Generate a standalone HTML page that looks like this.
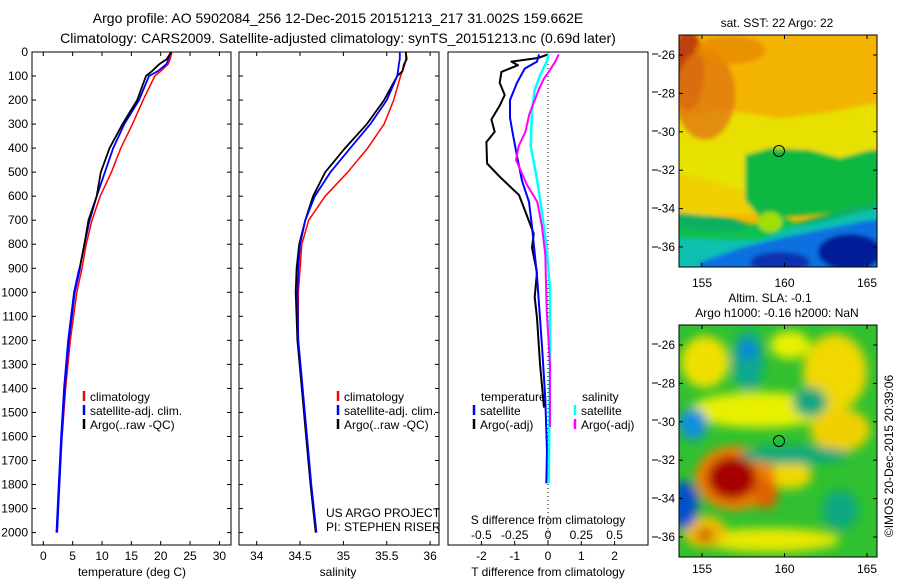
<!DOCTYPE html>
<html><head><meta charset="utf-8">
<style>
html,body{margin:0;padding:0;background:#fff;}
svg text{font-family:"Liberation Sans",sans-serif;fill:#000;}
</style></head>
<body>
<svg id="fig" width="900" height="580" viewBox="0 0 900 580" xmlns="http://www.w3.org/2000/svg">
<defs>
<filter id="blur3" x="-20%" y="-20%" width="140%" height="140%"><feGaussianBlur stdDeviation="2"/></filter>
<filter id="blur5" x="-20%" y="-20%" width="140%" height="140%"><feGaussianBlur stdDeviation="5"/></filter>
<clipPath id="clipTop"><rect x="679" y="35" width="198" height="232"/></clipPath>
<clipPath id="clipBot"><rect x="679" y="325" width="198" height="232"/></clipPath>
</defs>
<text x="338" y="23" font-size="14" text-anchor="middle">Argo profile: AO 5902084_256 12-Dec-2015 20151213_217 31.002S 159.662E</text>
<text x="338" y="43" font-size="14" text-anchor="middle">Climatology: CARS2009. Satellite-adjusted climatology: synTS_20151213.nc (0.69d later)</text>

<!-- Top SST map -->
<g>
<g clip-path="url(#clipTop)">
<rect x="679" y="35" width="198" height="232" fill="#f2b400"/>
<g filter="url(#blur3)">
<polygon points="670,120 720,110 780,118 830,112 890,100 890,180 670,180" fill="#e8e000"/>
<polygon points="670,150 890,150 890,200 670,200" fill="#e6e400"/>
<polygon points="670,170 745,190 760,215 670,215" fill="#f0d000"/>
<polygon points="745,155 770,148 810,150 840,158 870,150 890,150 890,200 870,210 760,218 745,200" fill="#10b840"/>
<polygon points="670,212 730,218 760,228 800,222 860,205 890,200 890,280 670,280" fill="#10b060"/>
<polygon points="670,225 700,232 740,230 760,222 780,215 800,226 790,240 760,245 690,245 670,245" fill="#10c050"/>
<polygon points="670,238 720,240 760,240 790,228 830,220 870,210 890,205 890,280 670,280" fill="#10c0b0"/>
<polygon points="700,262 740,248 780,238 830,228 870,220 890,220 890,280 700,280" fill="#1070e0"/>
<ellipse cx="850" cy="252" rx="32" ry="18" fill="#001a98"/>
<ellipse cx="780" cy="262" rx="30" ry="10" fill="#1030b0"/>
<ellipse cx="688" cy="70" rx="16" ry="40" fill="#c04010"/>
<ellipse cx="705" cy="95" rx="30" ry="45" fill="#e07810" opacity="0.8"/>
<ellipse cx="730" cy="50" rx="35" ry="14" fill="#e88800" opacity="0.8"/>
<ellipse cx="770" cy="222" rx="12" ry="10" fill="#a0e000"/>
</g>
</g>
<rect x="679" y="35" width="198" height="232" fill="none" stroke="#000" stroke-width="1"/>
<circle cx="779" cy="151" r="5.5" fill="none" stroke="#000"/>
<text x="777" y="27" font-size="12" text-anchor="middle">sat. SST: 22 Argo: 22</text>
</g>

<!-- Bottom SLA map -->
<g>
<g clip-path="url(#clipBot)">
<rect x="679" y="325" width="198" height="232" fill="#30c030"/>
<g filter="url(#blur5)">
<ellipse cx="705" cy="362" rx="24" ry="26" fill="#f0e000"/>
<ellipse cx="760" cy="410" rx="70" ry="18" fill="#e8f000"/>
<ellipse cx="835" cy="372" rx="32" ry="38" fill="#f0d800"/>
<ellipse cx="840" cy="430" rx="30" ry="22" fill="#f0d000"/>
<ellipse cx="790" cy="345" rx="20" ry="14" fill="#e8f000"/>
<ellipse cx="790" cy="475" rx="22" ry="14" fill="#f0d800"/>
<ellipse cx="770" cy="540" rx="70" ry="12" fill="#e8e800"/>
<ellipse cx="705" cy="532" rx="22" ry="16" fill="#f0c000"/>
<ellipse cx="735" cy="478" rx="40" ry="32" fill="#f08000"/>
<ellipse cx="766" cy="494" rx="12" ry="15" fill="#e06000"/>
<ellipse cx="732" cy="478" rx="25" ry="22" fill="#a80000"/>
<ellipse cx="705" cy="535" rx="9" ry="7" fill="#d06000"/>
<ellipse cx="748" cy="360" rx="16" ry="30" fill="#10a890"/>
<ellipse cx="748" cy="350" rx="8" ry="9" fill="#1080e0"/>
<ellipse cx="810" cy="402" rx="17" ry="15" fill="#10a880"/>
<ellipse cx="795" cy="455" rx="55" ry="9" fill="#10a880"/>
<ellipse cx="693" cy="424" rx="14" ry="16" fill="#1090e0"/>
<ellipse cx="684" cy="505" rx="14" ry="24" fill="#0050d0"/>
<ellipse cx="840" cy="510" rx="18" ry="20" fill="#10a880"/>
</g>
</g>
<rect x="679" y="325" width="198" height="232" fill="none" stroke="#000" stroke-width="1"/>
<circle cx="779" cy="441" r="5.5" fill="none" stroke="#000"/>
<text x="770" y="302" font-size="12" text-anchor="middle">Altim. SLA: -0.1</text>
<text x="777" y="317" font-size="12" text-anchor="middle">Argo h1000: -0.16 h2000: NaN</text>
</g>
<text transform="translate(893,456) rotate(-90)" font-size="12" text-anchor="middle">©IMOS 20-Dec-2015 20:39:06</text>

<g id="charts"></g>
</svg>
<script>
// ---- data ----
const depths = [0,30,50,80,100,200,300,400,500,600,700,800,900,1000,1200,1400,1600,1800,2000];
const tClim = [21.9,21.6,21.3,20.0,19.0,17.0,15.2,13.2,11.6,9.7,8.3,7.3,6.6,5.7,4.6,3.8,3.2,null,null];
const tSat  = [21.7,21.3,21.0,19.5,18.0,16.3,13.8,11.9,10.5,9.1,7.9,7.0,6.2,5.3,4.3,3.6,3.1,2.7,2.3];
const tArgo = [21.8,21.0,19.8,18.5,17.5,16.0,13.5,11.3,9.8,9.1,7.7,7.0,6.2,5.3,4.3,3.6,3.1,2.7,2.3];
const sClim = [35.72,35.72,35.71,35.68,35.66,35.58,35.47,35.28,35.05,34.79,34.60,34.52,34.50,34.48,34.48,34.52,34.58,34.63,null];
const sSat  = [35.65,35.65,35.64,35.63,35.62,35.50,35.31,35.08,34.85,34.67,34.56,34.50,34.48,34.47,34.48,34.53,34.58,34.63,34.69];
const sArgo = [35.72,35.73,35.70,35.68,35.62,35.47,35.27,35.02,34.79,34.65,34.56,34.49,34.46,34.45,34.47,34.52,34.57,34.62,34.68];
const dTArgoDepth = [10,25,40,55,83,128,179,223,281,332,375,464,522,595,682,756,815,917,1020,1107,1297,1480];
const dTArgo = [0,-0.3,-1.1,-0.9,-1.4,-1.45,-1.3,-1.45,-1.7,-1.6,-1.85,-1.83,-1.43,-0.87,-0.63,-0.43,-0.48,-0.33,-0.4,-0.33,-0.24,-0.12];
const dTSatDepth = [10,40,69,128,200,274,345,433,536,624,727,932,1224,1443,1660,1795];
const dTSat = [-0.27,-0.33,-0.7,-0.93,-1.14,-1.14,-1.05,-0.93,-0.78,-0.57,-0.48,-0.33,-0.18,-0.08,-0.03,-0.05];
const dSSatDepth = [10,40,98,157,245,391,537,668,815,990,1300,1795];
const dSSat = [0.005,-0.01,-0.06,-0.1,-0.12,-0.13,-0.08,-0.045,-0.01,0.015,0.015,0.005];
const dSArgoDepth = [10,40,83,110,157,258,332,391,449,551,624,727,844,1077,1300,1560];
const dSArgo = [0.08,0.055,0.005,-0.03,-0.07,-0.14,-0.17,-0.22,-0.24,-0.16,-0.08,-0.045,-0.02,-0.01,0.015,0.015];
const depthTicks = [0,100,200,300,400,500,600,700,800,900,1000,1100,1200,1300,1400,1500,1600,1700,1800,1900,2000];
const tTicks = [0,5,10,15,20,25,30];
const sTicks = [34,34.5,35,35.5,36];
const dTTicks = [-2,-1,0,1,2];
const dSTicks = [-0.5,-0.25,0,0.25,0.5];
const dSTickLabels = ['-0.5','-0.25','0','0.25','0.5'];
const mapLatTicks = [-26,-28,-30,-32,-34,-36];
const mapLonTicks = [155,160,165];

// ---- scales ----
const Y0 = 52, Y1 = 545;
const yD = d => Y0 + d * 0.2403;
const xT = t => 43.3 + t * 5.87;
const xS = s => 256.7 + (s - 34) * 86.7;
const xDT = v => 548 + v * 33.3;
const xDS = v => 548 + v * 133.2;
const NS = 'http://www.w3.org/2000/svg';
const root = document.getElementById('charts');
function mk(tag, attrs, parent) {
  const e = document.createElementNS(NS, tag);
  for (const k in attrs) e.setAttribute(k, attrs[k]);
  (parent || root).appendChild(e);
  return e;
}
function txt(s, x, y, size, anchor, parent) {
  const e = mk('text', {x: x, y: y, 'font-size': size, 'text-anchor': anchor || 'start'}, parent);
  e.textContent = s;
  return e;
}
function line(vals, ds, xf, color, w, name) {
  const pts = [];
  vals.forEach((v, i) => { if (v !== null) pts.push(xf(v).toFixed(1) + ',' + yD(ds[i]).toFixed(1)); });
  const p = mk('polyline', {points: pts.join(' '), fill: 'none', stroke: color, 'stroke-width': w, 'stroke-linejoin': 'round'});
  
  
}
function panel(x0, x1, name) {
  const g = mk('g', {});
  
  
  mk('rect', {x: x0, y: Y0, width: x1 - x0, height: Y1 - Y0, fill: 'none', stroke: '#000', 'stroke-width': 1}, g);
  return g;
}
function depthTickMarks(g, x0, x1, labels) {
  depthTicks.forEach(d => {
    const y = yD(d);
    mk('line', {x1: x0, y1: y, x2: x0 + 4, y2: y, stroke: '#000'}, g);
    mk('line', {x1: x1, y1: y, x2: x1 - 4, y2: y, stroke: '#000'}, g);
    if (labels) {
      const t = txt(String(d), x0 - 4, y + 4, 12, 'end', g);
      
      
    }
  });
}
function xTicks(g, ticks, xf, labels, labelY) {
  ticks.forEach((v, i) => {
    const x = xf(v);
    mk('line', {x1: x, y1: Y0, x2: x, y2: Y0 + 4, stroke: '#000'}, g);
    mk('line', {x1: x, y1: Y1, x2: x, y2: Y1 - 4, stroke: '#000'}, g);
    const t = txt(labels ? labels[i] : String(v), x, labelY, 12, 'middle', g);
    
    
  });
}
function legendEntry(g, x, y, color, label) {
  mk('line', {x1: x, y1: y - 10, x2: x, y2: y, stroke: color, 'stroke-width': 2.5}, g);
  const t = txt(label, x + 6, y, 12, 'start', g);
  
  
}

// ---- temperature panel ----
const gT = panel(32, 231, 'temperature-panel');
depthTickMarks(gT, 32, 231, true);
xTicks(gT, tTicks, xT, null, 560);
line(tClim, depths, xT, '#ff0000', 1.5, 'temperature-climatology-line');
line(tSat, depths, xT, '#0000ff', 1.8, 'temperature-satellite-line');
line(tArgo, depths, xT, '#000000', 1.8, 'temperature-argo-line');
line(tSat.slice(12), depths.slice(12), xT, '#0000ff', 2.5, 'temperature-satellite-deep');
let t = txt('temperature (deg C)', 132, 576, 12, 'middle', gT);
 
legendEntry(gT, 84, 401, '#ff0000', 'climatology');
legendEntry(gT, 84, 415, '#0000ff', 'satellite-adj. clim.');
legendEntry(gT, 84, 429, '#000000', 'Argo(..raw -QC)');

// ---- salinity panel ----
const gS = panel(239, 439, 'salinity-panel');
depthTickMarks(gS, 239, 439, false);
xTicks(gS, sTicks, xS, null, 560);
line(sClim, depths, xS, '#ff0000', 1.5, 'salinity-climatology-line');
line(sArgo, depths, xS, '#000000', 1.8, 'salinity-argo-line');
line(sSat, depths, xS, '#0000ff', 1.8, 'salinity-satellite-line');
t = txt('salinity', 338, 576, 12, 'middle', gS);
 
legendEntry(gS, 338, 401, '#ff0000', 'climatology');
legendEntry(gS, 338, 415, '#0000ff', 'satellite-adj. clim.');
legendEntry(gS, 338, 429, '#000000', 'Argo(..raw -QC)');
t = txt('US ARGO PROJECT', 326, 517, 12, 'start', gS);
 
t = txt('PI: STEPHEN RISER', 326, 531, 12, 'start', gS);
 

// ---- difference panel ----
const gD = panel(448, 648, 'difference-panel');
[54,92,131,170,208,247,344,383,420,460,498,537].forEach(y => mk('line', {x1: 652, y1: y, x2: 658, y2: y, stroke: '#000'}, gD));
dTTicks.forEach(v => {
  const x = xDT(v);
  mk('line', {x1: x, y1: Y1, x2: x, y2: Y1 - 4, stroke: '#000'}, gD);
  const tl = txt(String(v), x, 560, 12, 'middle', gD);
   
});
dSTicks.forEach((v, i) => {
  const tl = txt(dSTickLabels[i], xDS(v), 539, 12, 'middle', gD);
   
});
const zl = mk('line', {x1: xDT(0), y1: Y0, x2: xDT(0), y2: Y1, stroke: '#000', 'stroke-dasharray': '1,3'}, gD);


line(dTArgo, dTArgoDepth, xDT, '#000000', 2, 't-diff-argo-line');
line(dTSat, dTSatDepth, xDT, '#0000ff', 2, 't-diff-satellite-line');
line(dSSat, dSSatDepth, xDS, '#00ffff', 2.5, 's-diff-satellite-line');
line(dSArgo, dSArgoDepth, xDS, '#ff00ff', 2, 's-diff-argo-line');
t = txt('S difference from climatology', 548, 524, 12, 'middle', gD);
 
t = txt('T difference from climatology', 548, 576, 12, 'middle', gD);
 
t = txt('temperature', 481, 401, 12, 'start', gD);
 
t = txt('salinity', 582, 401, 12, 'start', gD);
 
legendEntry(gD, 474, 415, '#0000ff', 'satellite');
legendEntry(gD, 474, 429, '#000000', 'Argo(-adj)');
legendEntry(gD, 575, 415, '#00ffff', 'satellite');
legendEntry(gD, 575, 429, '#ff00ff', 'Argo(-adj)');

// ---- map axes ----
function mapAxes(top, bottom, lat0y, lonLabelY, name) {
  const g = mk('g', {});
  
  
  mapLatTicks.forEach(la => {
    const y = lat0y + (-26 - la) * 19.2;
    mk('line', {x1: 679, y1: y, x2: 683, y2: y, stroke: '#000'}, g);
    mk('line', {x1: 877, y1: y, x2: 873, y2: y, stroke: '#000'}, g);
    const tl = txt(String(la), 675, y + 4, 12, 'end', g);
     
  });
  mapLonTicks.forEach(lo => {
    const x = 702 + (lo - 155) * 16.5;
    mk('line', {x1: x, y1: top, x2: x, y2: top + 4, stroke: '#000'}, g);
    mk('line', {x1: x, y1: bottom, x2: x, y2: bottom - 4, stroke: '#000'}, g);
    const tl = txt(String(lo), x, lonLabelY, 12, 'middle', g);
     
  });
}
mapAxes(35, 267, 55, 287, 'sst-map-axes');
mapAxes(325, 557, 345, 573, 'sla-map-axes');
</script>
</body></html>
